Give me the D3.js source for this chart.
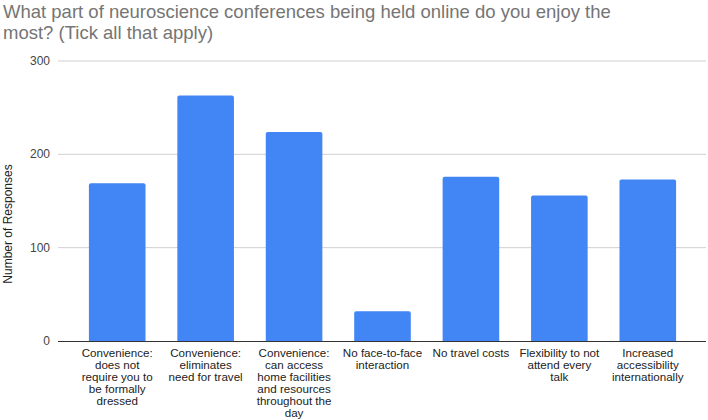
<!DOCTYPE html>
<html><head><meta charset="utf-8">
<script src="https://cdn.jsdelivr.net/npm/d3@7"></script>
<style>body{margin:0;background:#fff}svg{display:block;font-family:Arial,"Liberation Sans",Helvetica,sans-serif}</style>
</head><body><svg id="c" width="708" height="420"></svg>
<script>
const categories = [
  "Convenience:\ndoes not\nrequire you to\nbe formally\ndressed",
  "Convenience:\neliminates\nneed for travel",
  "Convenience:\ncan access\nhome facilities\nand resources\nthroughout the\nday",
  "No face-to-face\ninteraction",
  "No travel costs",
  "Flexibility to not\nattend every\ntalk",
  "Increased\naccessibility\ninternationally"
];
const values = [169, 263, 224, 32, 176, 156, 173];
const yTicks = [0, 100, 200, 300];
const titleLines = ["What part of neuroscience conferences being held online do you enjoy the", "most? (Tick all that apply)"];
const yTitle = "Number of Responses";

const svg = d3.select("#c");
const plotL = 58, plotR = 706;
const x = d3.scaleBand().domain(categories).range([73, 692]).paddingInner(0.36).paddingOuter(0.18);
const y = d3.scaleLinear().domain([0, 300]).range([341, 61]);

// title
svg.append("g").selectAll("text").data(titleLines).join("text")
  .attr("x", 3).attr("y", (d,i) => 17.5 + i*21)
  .attr("font-size", 18.5).attr("fill", "#757575").text(d => d);

// gridlines
svg.append("g").selectAll("line").data(yTicks.filter(t => t > 0)).join("line")
  .attr("x1", plotL).attr("x2", plotR).attr("y1", d => y(d)).attr("y2", d => y(d))
  .attr("stroke", "#d0d0d0").attr("stroke-width", 1);

// y tick labels
svg.append("g").selectAll("text").data(yTicks).join("text")
  .attr("x", 50).attr("y", d => y(d) + 4).attr("text-anchor", "end")
  .attr("font-size", 12).attr("fill", "#444").text(d => d);

// y title
svg.append("text").attr("transform", "translate(12,224) rotate(-90)")
  .attr("text-anchor", "middle").attr("font-size", 12).attr("fill", "#222").text(yTitle);

// bars
svg.append("g").selectAll("path").data(categories).join("path")
  .attr("fill", "#4285F4")
  .attr("d", (d,i) => {
    const x0 = x(d), w = x.bandwidth(), y0 = y(values[i]), y1 = y(0), r = 2;
    return `M${x0},${y1}V${y0+r}Q${x0},${y0} ${x0+r},${y0}H${x0+w-r}Q${x0+w},${y0} ${x0+w},${y0+r}V${y1}Z`;
  });

// x axis baseline
svg.append("line").attr("x1", plotL).attr("x2", plotR).attr("y1", y(0)+0.5).attr("y2", y(0)+0.5)
  .attr("stroke", "#333").attr("stroke-width", 1);

// x labels
const xl = svg.append("g").selectAll("text").data(categories).join("text")
  .attr("text-anchor", "middle").attr("font-size", 11.6).attr("fill", "#222")
  .attr("x", d => x(d) + x.bandwidth()/2).attr("y", 356.5);
xl.each(function(d) {
  const t = d3.select(this), cx = x(d) + x.bandwidth()/2;
  d.split("\n").forEach((line, i) => {
    t.append("tspan").attr("x", cx).attr("dy", i === 0 ? 0 : 12).text(line);
  });
});
</script></body></html>
